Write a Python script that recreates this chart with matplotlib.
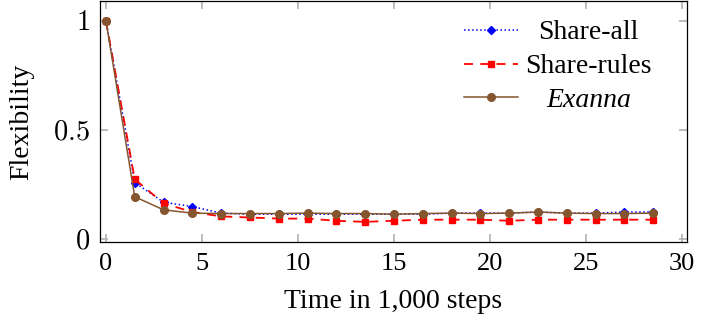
import numpy as np
import matplotlib.pyplot as plt

plt.rcParams['font.family'] = ['Liberation Serif', 'DejaVu Serif']
plt.rcParams['mathtext.fontset'] = 'cm'

# data (time in 1,000 steps)
steps = [0, 1.5, 3, 4.5, 6, 7.5, 9, 10.5, 12, 13.5, 15, 16.5, 18, 19.5, 21, 22.5, 24, 25.5, 27, 28.5]
share_all = [1.0, 0.26, 0.17, 0.15, 0.12, 0.115, 0.115, 0.115, 0.115, 0.115, 0.115, 0.115, 0.12, 0.12, 0.12, 0.125, 0.12, 0.12, 0.125, 0.125]
share_rules = [1.0, 0.275, 0.165, 0.125, 0.105, 0.10, 0.095, 0.095, 0.085, 0.08, 0.085, 0.09, 0.09, 0.09, 0.085, 0.09, 0.09, 0.09, 0.09, 0.09]
exanna = [1.0, 0.195, 0.135, 0.12, 0.118, 0.118, 0.118, 0.12, 0.118, 0.118, 0.115, 0.118, 0.12, 0.118, 0.12, 0.125, 0.12, 0.118, 0.118, 0.12]
labels = ['Share-all', 'Share-rules', 'Exanna']
yticks = [0, 0.5, 1]
ytick_labels = ['$0$', '$0.5$', '$1$']

fig = plt.figure(figsize=(7.05, 3.26), dpi=100)
ax = fig.add_axes([0.1418, 0.2577, 0.8326, 0.7393])

l1, = ax.plot(steps, share_all, color='blue', linestyle=':', marker='D', markersize=4, lw=1.1)
l2, = ax.plot(steps, share_rules, color='red', linestyle=(0, (5, 4)), marker='s', markersize=5, lw=1.3)
l3, = ax.plot(steps, exanna, color='#85562e', linestyle='-', marker='o', markersize=5.5, lw=1.1)

ax.set_xlim(-0.31, 30.26)
ax.set_ylim(-0.012, 1.09)
ax.set_xticks([0, 5, 10, 15, 20, 25, 30])
ax.set_yticks(yticks)
ax.set_yticklabels(ytick_labels)
ax.tick_params(direction='in', top=True, right=True, color='#b0b0b0', length=6, width=1.2)
ax.tick_params(axis='x', labelsize=19, pad=8)
ax.tick_params(axis='y', labelsize=20.5, pad=7)
for s in ax.spines.values():
    s.set_linewidth(0.9)

ax.set_xlabel('Time in 1,000 steps', fontsize=20, labelpad=10)
ax.set_ylabel('Flexibility', fontsize=20, labelpad=14)

# legend: placeholder labels of equal width, real labels centred on top
widest = max(labels, key=len)
leg = ax.legend([l1, l2, l3], [widest] * 3, loc='upper right', bbox_to_anchor=(0.959, 0.967),
                frameon=False, fontsize=20, handlelength=1.95, handletextpad=0.25,
                labelspacing=0.3, borderaxespad=0.0)
for t in leg.get_texts():
    t.set_color('none')
fig.canvas.draw()
r = fig.canvas.get_renderer()
inv = ax.transAxes.inverted()
for t, lab in zip(leg.get_texts(), labels):
    bb = t.get_window_extent(r)
    (x0, y0), (x1, y1) = inv.transform([[bb.x0, bb.y0], [bb.x1, bb.y1]])
    ax.text((x0 + x1) / 2, (y0 + y1) / 2, lab, transform=ax.transAxes, ha='center', va='center',
            fontsize=20, fontstyle='italic' if lab == 'Exanna' else 'normal')
    t.set_visible(False)

fig.savefig('out.png', dpi=100)
